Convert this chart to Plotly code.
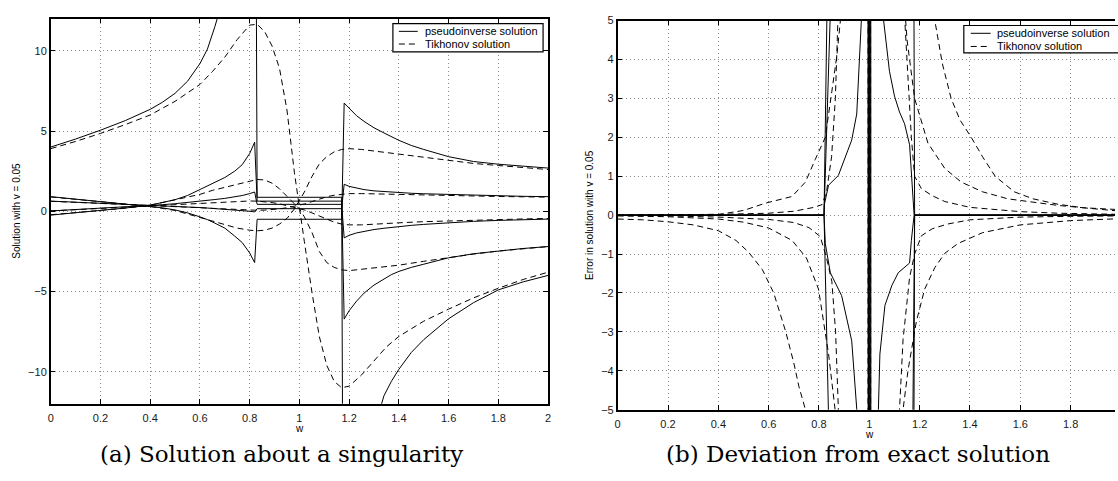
import plotly.graph_objects as go

# ================= (a) Solution about a singularity =================
A_W_SOLID = [0, 0.1, 0.2, 0.3, 0.4, 0.45, 0.5, 0.55, 0.6, 0.63, 0.66, 0.7, 0.74, 0.77, 0.8, 0.82,
             0.83, 1.17,
             1.18, 1.2, 1.23, 1.26, 1.3, 1.34, 1.37, 1.4, 1.45, 1.5, 1.6, 1.7, 1.8, 1.9, 2.0]
A_PINV_1 = [4.0, 4.5, 5.05, 5.65, 6.35, 6.8, 7.35, 8.1, 9.2, 10.1, 11.5, 13.6, 17.0, 21.5, 30.0, 40.0,
            0.87, 0.87,
            -40.0, -30.0, -21.5, -17.0, -13.6, -11.5, -10.6, -9.85, -8.8, -8.0, -6.7, -5.7, -4.9, -4.4, -4.0]
A_PINV_2 = [-0.24, -0.1, 0.04, 0.2, 0.38, 0.54, 0.72, 0.98, 1.35, 1.55, 1.78, 2.1, 2.5, 2.9, 3.6, 4.3,
            0.63, 0.63,
            -6.72, -6.2, -5.6, -5.1, -4.6, -4.2, -3.95, -3.75, -3.5, -3.3, -2.9, -2.65, -2.47, -2.32, -2.2]
A_PINV_3 = [0.02, 0.1, 0.18, 0.27, 0.36, 0.41, 0.47, 0.54, 0.62, 0.67, 0.73, 0.8, 0.9, 0.98, 1.1, 1.2,
            0.43, 0.43,
            -1.66, -1.5, -1.35, -1.25, -1.14, -1.06, -1.0, -0.95, -0.88, -0.82, -0.71, -0.63, -0.57, -0.53, -0.49]
A_PINV_4 = [0.91, 0.76, 0.62, 0.47, 0.32, 0.21, 0.08, -0.1, -0.35, -0.52, -0.74, -1.05, -1.55, -1.95, -2.6, -3.2,
            -0.5, -0.5,
            6.74, 6.4, 5.95, 5.6, 5.2, 4.88, 4.63, 4.42, 4.1, 3.85, 3.4, 3.1, 2.93, 2.8, 2.69]
A_PINV_5 = [0.63, 0.57, 0.5, 0.43, 0.36, 0.33, 0.3, 0.27, 0.23, 0.2, 0.17, 0.14, 0.1, 0.06, 0.0, -0.04,
            0.16, 0.16,
            1.68, 1.55, 1.43, 1.35, 1.27, 1.22, 1.19, 1.16, 1.12, 1.09, 1.04, 1.0, 0.96, 0.93, 0.91]

A_W_DASH = [0, 0.1, 0.2, 0.3, 0.4, 0.5, 0.6, 0.65, 0.7, 0.75, 0.8, 0.83, 0.86, 0.89, 0.92,
            0.95, 0.98, 1.0, 1.02, 1.05, 1.08, 1.11, 1.14, 1.17, 1.2, 1.25, 1.3, 1.35, 1.4,
            1.5, 1.6, 1.7, 1.8, 1.9, 2.0]
A_TIK_1 = [3.9, 4.35, 4.85, 5.4, 6.0, 6.85, 7.9, 8.7, 9.6, 10.7, 11.6, 11.65, 11.2, 10.3, 8.9,
           6.3, 2.4, 0.1, -1.9, -5.0, -7.8, -9.6, -10.6, -11.0, -10.9, -10.2, -9.3, -8.45, -7.8,
           -6.85, -6.1, -5.4, -4.8, -4.25, -3.8]
A_TIK_2 = [-0.22, -0.09, 0.05, 0.19, 0.38, 0.7, 1.05, 1.3, 1.5, 1.7, 1.9, 1.98, 1.95, 1.75, 1.4,
           0.95, 0.5, 0.15, -0.35, -1.3, -2.5, -3.2, -3.5, -3.65, -3.7, -3.62, -3.52, -3.44, -3.36,
           -3.12, -2.88, -2.67, -2.48, -2.33, -2.2]
A_TIK_3 = [0.02, 0.1, 0.18, 0.26, 0.34, 0.42, 0.5, 0.55, 0.59, 0.63, 0.64, 0.63, 0.6, 0.54, 0.46,
           0.36, 0.26, 0.18, 0.08, -0.1, -0.3, -0.5, -0.68, -0.8, -0.85, -0.85, -0.8, -0.76, -0.72,
           -0.65, -0.6, -0.55, -0.51, -0.48, -0.45]
A_TIK_4 = [0.89, 0.75, 0.61, 0.46, 0.3, 0.05, -0.4, -0.62, -0.85, -1.05, -1.18, -1.22, -1.18, -1.05, -0.8,
           -0.45, 0.15, 0.68, 1.2, 2.15, 2.95, 3.4, 3.7, 3.85, 3.9, 3.85, 3.75, 3.65, 3.55,
           3.35, 3.15, 2.98, 2.85, 2.72, 2.6]
A_TIK_5 = [0.62, 0.56, 0.49, 0.42, 0.35, 0.29, 0.22, 0.18, 0.14, 0.1, 0.07, 0.06, 0.07, 0.1, 0.15,
           0.22, 0.3, 0.37, 0.45, 0.6, 0.76, 0.9, 1.0, 1.07, 1.1, 1.1, 1.08, 1.06, 1.04,
           1.0, 0.97, 0.94, 0.92, 0.9, 0.88]

# ================= (b) Deviation from exact solution =================
B_PINV_1_W = [0, 0.82, 0.845, 0.87, 0.99, 1.0, 1.13, 1.17, 1.18, 2.0]
B_PINV_1_Y = [0, 0, 5.2, 12, 90, -90, -15, -20, 0, 0]
B_PINV_2_W = [0, 0.82, 0.838, 0.86, 0.995, 1.005, 1.13, 1.17, 1.18, 2.0]
B_PINV_2_Y = [0, 0, -5.2, -14, -90, 90, 15, 20, 0, 0]
B_PINV_3_W = [0, 0.82, 0.821, 0.838, 0.877, 0.93, 0.95, 0.963, 0.969, 0.985, 1.0, 1.006,
              1.02, 1.036, 1.042, 1.062, 1.09, 1.115, 1.14, 1.16, 1.167, 1.178, 2.0]
B_PINV_3_Y = [0, 0, 0.27, 0.77, 1.02, 1.93, 2.6, 4.27, 5.1, 12, 60, -60,
              -12, -5.0, -3.57, -2.32, -1.8, -1.48, -1.35, -1.23, -0.65, 0, 0]
B_PINV_4_W = [0, 0.82, 0.825, 0.845, 0.89, 0.93, 0.95, 0.97, 0.994, 1.0, 1.04, 1.055,
              1.08, 1.1, 1.12, 1.14, 1.16, 1.17, 1.178, 2.0]
B_PINV_4_Y = [0, 0, -0.73, -1.48, -2.07, -3.23, -4.98, -9, -60, 60, 9, 5.1,
              3.7, 3.06, 2.65, 2.35, 1.81, 0.85, 0, 0]
B_PINV_5_W = [0, 0.82, 0.84, 0.9, 1.002, 1.01, 1.1, 1.168, 1.18, 2.0]
B_PINV_5_Y = [0, 0, 9, 25, 150, -150, -25, -9, 0, 0]

B_TIK_1_W = [0, 0.1, 0.2, 0.3, 0.4, 0.47, 0.52, 0.575, 0.62, 0.667, 0.7, 0.72, 0.746, 0.78,
             0.85, 0.95, 0.992, 1.002, 1.05, 1.15, 1.22, 1.26, 1.29, 1.325, 1.36, 1.405, 1.45,
             1.5, 1.576, 1.65, 1.75, 1.85, 2.0]
B_TIK_1_Y = [-0.1, -0.12, -0.17, -0.25, -0.4, -0.65, -0.95, -1.4, -2.0, -2.98, -3.8, -4.4, -5.0, -6.5,
             -12, -40, -200, 200, 40, 12, 6.5, 5.0, 3.9, 3.0, 2.45, 2.0, 1.5,
             1.0, 0.6, 0.42, 0.28, 0.19, 0.1]
B_TIK_2_W = [0, 0.2, 0.403, 0.5, 0.588, 0.693, 0.746, 0.785, 0.825, 0.851, 0.871, 0.885, 0.92,
             0.97, 0.998, 1.008, 1.05, 1.1, 1.134, 1.154, 1.187, 1.22, 1.26, 1.3, 1.352, 1.45,
             1.6, 1.8, 2.0]
B_TIK_2_Y = [0.0, 0.01, 0.02, 0.12, 0.31, 0.48, 0.85, 1.43, 2.0, 3.18, 4.1, 5.0, 9,
             30, 150, -150, -30, -9, -5.0, -3.98, -2.73, -1.9, -1.35, -0.98, -0.73, -0.45,
             -0.25, -0.14, -0.09]
B_TIK_3_W = [0, 0.2, 0.4, 0.5, 0.6, 0.693, 0.75, 0.798, 0.838, 0.864, 0.9, 0.96, 0.995, 1.005,
             1.04, 1.1, 1.15, 1.18, 1.233, 1.3, 1.365, 1.45, 1.55, 1.628, 1.75, 1.85, 2.0]
B_TIK_3_Y = [-0.02, -0.04, -0.1, -0.18, -0.33, -0.65, -1.1, -1.9, -3.57, -5.0, -9, -30, -150, 150,
             30, 9, 4.5, 3.0, 1.85, 1.2, 0.85, 0.6, 0.42, 0.35, 0.25, 0.19, 0.14]
B_TIK_4_W = [0, 0.2, 0.4, 0.6, 0.7, 0.76, 0.805, 0.83, 0.851, 0.866, 0.877, 0.9, 0.96, 0.99, 1.0,
             1.06, 1.12, 1.141, 1.155, 1.167, 1.18, 1.207, 1.25, 1.3, 1.4, 1.497, 1.6, 1.75, 2.0]
B_TIK_4_Y = [-0.01, -0.02, -0.05, -0.11, -0.19, -0.32, -0.55, -1.1, -1.7, -3.0, -5.0, -10, -30, -150, 150,
             30, 9, 5.0, 3.2, 2.0, 1.0, 0.68, 0.5, 0.35, 0.2, 0.14, 0.09, 0.05, 0.02]
B_TIK_5_W = [0, 0.4, 0.6, 0.7, 0.78, 0.812, 0.83, 0.85, 0.865, 0.877, 0.9, 0.96, 1.0, 1.01,
             1.06, 1.1, 1.12, 1.134, 1.16, 1.18, 1.207, 1.25, 1.31, 1.4, 1.6, 1.8, 2.0]
B_TIK_5_Y = [0.0, 0.02, 0.05, 0.1, 0.2, 0.27, 0.6, 1.5, 3.0, 4.85, 10, 30, 150, -150,
             -30, -9, -5.0, -3.2, -1.6, -1.0, -0.53, -0.35, -0.23, -0.12, -0.05, -0.03, -0.02]

LEGEND_NAMES = ["pseudoinverse solution", "Tikhonov solution"]
Y_TITLES = ["Solution with v = 0.05", "Error in solution with v = 0.05"]
X_TITLE = "w"
CAPTIONS = ["(a) Solution about a singularity", "(b) Deviation from exact solution"]

W, H = 1118, 481
SANS = "Liberation Sans, Arial, sans-serif"
DASH = "6px,4px"

fig = go.Figure()


def add_line(x, y, dashed, xa, ya):
    fig.add_trace(go.Scatter(
        x=x, y=y, mode="lines", xaxis=xa, yaxis=ya,
        line=dict(color="black", width=1, dash=DASH if dashed else "solid"),
        name=LEGEND_NAMES[1] if dashed else LEGEND_NAMES[0],
        showlegend=False, hoverinfo="skip",
    ))


# (a)
for ys in [A_PINV_1, A_PINV_2, A_PINV_3, A_PINV_4, A_PINV_5]:
    add_line(A_W_SOLID, ys, False, "x", "y")
for ys in [A_TIK_1, A_TIK_2, A_TIK_3, A_TIK_4, A_TIK_5]:
    add_line(A_W_DASH, ys, True, "x", "y")

# (b)
for xs, ys in [(B_PINV_1_W, B_PINV_1_Y), (B_PINV_2_W, B_PINV_2_Y), (B_PINV_3_W, B_PINV_3_Y),
               (B_PINV_4_W, B_PINV_4_Y), (B_PINV_5_W, B_PINV_5_Y)]:
    add_line(xs, ys, False, "x2", "y2")
for xs, ys in [(B_TIK_1_W, B_TIK_1_Y), (B_TIK_2_W, B_TIK_2_Y), (B_TIK_3_W, B_TIK_3_Y),
               (B_TIK_4_W, B_TIK_4_Y), (B_TIK_5_W, B_TIK_5_Y)]:
    add_line(xs, ys, True, "x2", "y2")

axis_common = dict(
    showline=True, linecolor="black", linewidth=1.5,
    ticks="inside", ticklen=5, tickwidth=1, tickcolor="black",
    showgrid=True, gridcolor="#8c8c8c", gridwidth=1, griddash="1px,3px",
    zeroline=False, tickfont=dict(family=SANS, size=11, color="#1a1a1a"),
    fixedrange=True,
)


def px(x):
    return x / W


def py(y):
    return (H - y) / H


fig.update_layout(
    width=W, height=H,
    margin=dict(l=0, r=0, t=0, b=0),
    paper_bgcolor="white", plot_bgcolor="white",
    showlegend=False,
    xaxis=dict(domain=[px(48), px(548)], range=[0, 2], dtick=0.2, tick0=0,
               anchor="y", mirror="ticks", ticklabelstandoff=3, **axis_common),
    yaxis=dict(domain=[py(408), py(13)], range=[-12, 12], dtick=5, tick0=0,
               anchor="x", mirror="ticks", **axis_common),
    xaxis2=dict(domain=[px(618), 1.0], range=[0, (W - 618) / 253], dtick=0.2, tick0=0,
                anchor="y2", mirror="ticks", ticklabelstandoff=3, **axis_common),
    yaxis2=dict(domain=[py(414), py(15)], range=[-5, 5], dtick=1, tick0=0,
                anchor="x2", mirror=False, **axis_common),
)


def ann(text, x, y, font, angle=0, xanchor="center"):
    fig.add_annotation(text=text, x=px(x), y=py(y), xref="paper", yref="paper",
                       xanchor=xanchor, yanchor="middle", textangle=angle,
                       showarrow=False, font=font, borderpad=0)


ann_font = dict(family=SANS, size=10, color="black")
ann(Y_TITLES[0], 14, 210, ann_font, angle=-90)
ann(Y_TITLES[1], 589, 214.5, ann_font, angle=-90)
ann(X_TITLE, 298, 433, ann_font)
ann(X_TITLE, 871, 439, ann_font)

cap_font = dict(family="DejaVu Serif, serif", size=23, color="black")
ann(CAPTIONS[0], 280, 459, cap_font)
ann(CAPTIONS[1], 860, 459, cap_font)

# legend boxes (one per panel)
leg_font = dict(family=SANS, size=11, color="black")
for (x0, y0, x1, y1, lx0, lx1, tx, r1, r2) in [
        (392, 18, 543, 47, 398, 417, 423, 26, 39),
        (966, 20, 1130, 48, 973, 993, 998, 28, 41.5)]:
    fig.add_shape(type="rect", xref="paper", yref="paper",
                  x0=px(x0), x1=px(x1), y0=py(y1), y1=py(y0),
                  line=dict(color="black", width=1.2), fillcolor="white", layer="above")
    fig.add_shape(type="line", xref="paper", yref="paper",
                  x0=px(lx0), x1=px(lx1), y0=py(r1), y1=py(r1),
                  line=dict(color="black", width=1), layer="above")
    fig.add_shape(type="line", xref="paper", yref="paper",
                  x0=px(lx0), x1=px(lx1), y0=py(r2), y1=py(r2),
                  line=dict(color="black", width=1, dash=DASH), layer="above")
    ann(LEGEND_NAMES[0], tx, r1, leg_font, xanchor="left")
    ann(LEGEND_NAMES[1], tx, r2, leg_font, xanchor="left")

fig.write_html("out.html")
